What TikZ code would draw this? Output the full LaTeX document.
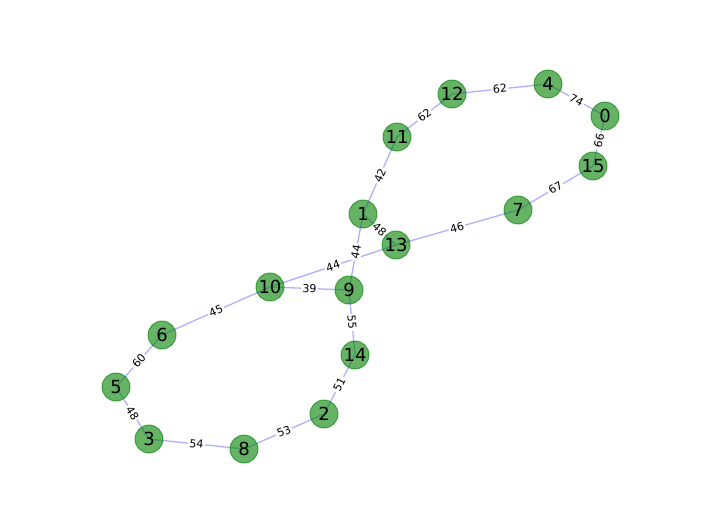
\documentclass[tikz,border=0pt]{standalone}
\usepackage{fontspec}
\setmainfont{DejaVu Sans}
\usepackage{tikz}
\usetikzlibrary{arrows,automata}
\usetikzlibrary{positioning}
\definecolor{nodegreen}{RGB}{0,128,0}
\definecolor{edgeblue}{RGB}{176,176,255}
\pgfdeclarelayer{background}
\pgfsetlayers{background,main}

\begin{document}
\begin{tikzpicture}[x=1pt,y=-1pt,-]
 				 \tikzstyle{every state}=[fill=nodegreen, fill opacity=0.6, draw=nodegreen, draw opacity=0.6, text=black, text opacity=1, minimum size=28pt, inner sep=0pt, line width=1pt, font=\fontsize{18}{18}\selectfont]
 				 \tikzstyle{weight}=[sloped, fill=white, text=black, inner sep=1.5pt, font=\fontsize{11}{11}\selectfont]
 				 \useasboundingbox (0,0) rectangle (704,528);
 					 \node[state] (n0)  at (605,116) {0};
 					 \node[state] (n4)  at (548,84)  {4};
 					 \node[state] (n12) at (452,94)  {12};
 					 \node[state] (n11) at (397,137) {11};
 					 \node[state] (n1)  at (363,214) {1};
 					 \node[state] (n13) at (396,245) {13};
 					 \node[state] (n7)  at (518,210) {7};
 					 \node[state] (n15) at (593,166) {15};
 					 \node[state] (n9)  at (349,290) {9};
 					 \node[state] (n10) at (270,287) {10};
 					 \node[state] (n6)  at (162,335) {6};
 					 \node[state] (n5)  at (116,387) {5};
 					 \node[state] (n3)  at (149,439) {3};
 					 \node[state] (n8)  at (244,449) {8};
 					 \node[state] (n2)  at (324,414) {2};
 					 \node[state] (n14) at (355,355) {14};
				\begin{pgfonlayer}{background}
				\path[draw=edgeblue, line width=1.3pt]
				(n0.center) edge node[weight] {74} (n4.center)
				(n4.center) edge node[weight] {62} (n12.center)
				(n12.center) edge node[weight] {62} (n11.center)
				(n11.center) edge node[weight] {42} (n1.center)
				(n1.center) edge node[weight] {48} (n13.center)
				(n13.center) edge node[weight] {46} (n7.center)
				(n7.center) edge node[weight] {67} (n15.center)
				(n15.center) edge node[weight] {66} (n0.center)
				(n13.center) edge node[weight] {44} (n10.center)
				(n10.center) edge node[weight] {39} (n9.center)
				(n1.center) edge node[weight] {44} (n9.center)
				(n9.center) edge node[weight] {55} (n14.center)
				(n14.center) edge node[weight] {51} (n2.center)
				(n2.center) edge node[weight] {53} (n8.center)
				(n8.center) edge node[weight] {54} (n3.center)
				(n3.center) edge node[weight] {48} (n5.center)
				(n5.center) edge node[weight] {60} (n6.center)
				(n6.center) edge node[weight] {45} (n10.center);
				\end{pgfonlayer}
\end{tikzpicture}
\end{document}
